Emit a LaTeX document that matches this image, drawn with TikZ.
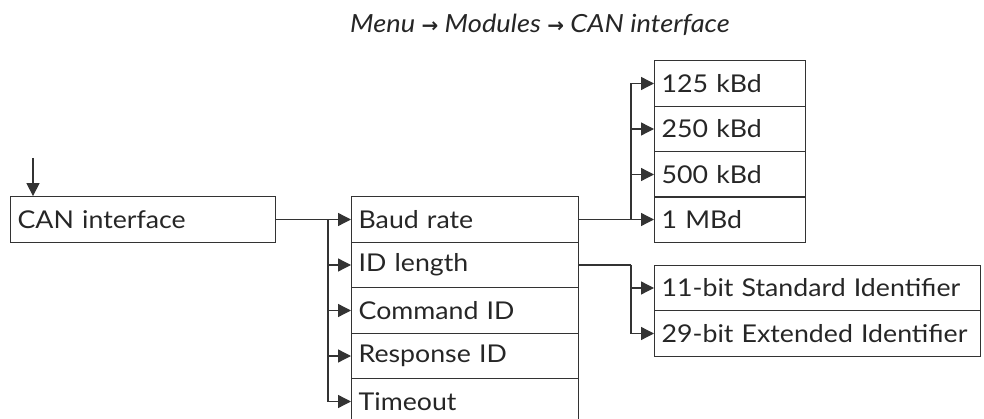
\documentclass[tikz,border=0pt]{standalone}
\usepackage{fontspec}
\setmainfont{Lato}[FakeStretch=1.09]
\newfontfamily\symfont{DejaVu Sans}[BoldFont=* Bold]
\usetikzlibrary{arrows.meta}

\definecolor{linegray}{HTML}{333333}
\tikzset{
  menubox/.style={draw=linegray, line width=1.3pt, anchor=west, align=left,
    minimum height=45.5pt, inner xsep=7pt, inner ysep=0pt,
    font=\fontsize{24.5}{27}\selectfont, text=black!85},
  branch/.style={draw=linegray, line width=1.3pt},
  arr/.style={branch, -{Triangle[length=13pt,width=13pt]}}
}

\begin{document}
\begin{tikzpicture}[x=1pt,y=-1pt]
      \useasboundingbox (0,0) rectangle (984,419);
      \node[font=\fontsize{25}{27}\selectfont\itshape, text=black!85] (path) at (540,25)
        {Menu {\symfont\upshape\bfseries\fontsize{20}{20}\selectfont →} Modules {\symfont\upshape\bfseries\fontsize{20}{20}\selectfont →} CAN interface};
      % main menu item
      \node[menubox, text width=251pt] (can) at (10,219.5) {CAN interface};
      % submenu
      \node[menubox, text width=213pt] (baud) at (351,219.5) {Baud rate};
      \node[menubox, text width=213pt] (idlen) at (351,265) {ID length};
      \node[menubox, text width=213pt] (cmd) at (351,310.5) {Command ID};
      \node[menubox, text width=213pt] (resp) at (351,356) {Response ID};
      \node[menubox, text width=213pt] (tout) at (351,401.5) {Timeout};
      % baud rates
      \node[menubox, text width=137pt] (kbd125) at (654,83.5) {125 kBd};
      \node[menubox, text width=137pt] (kbd250) at (654,129) {250 kBd};
      \node[menubox, text width=137pt] (kbd500) at (654,174.5) {500 kBd};
      \node[menubox, text width=137pt] (mbd1) at (654,219.5) {1 MBd};
      % identifier lengths
      \node[menubox, text width=312pt] (std) at (654,288) {11-bit Standard Identifier};
      \node[menubox, text width=312pt] (ext) at (654,333.5) {29-bit Extended Identifier};

      \coordinate (in) at (33,158);
      \coordinate (j1) at (328,219.5);
      \coordinate (j2) at (631,219.5);
      \coordinate (j3) at (631,265);

      \draw[arr] (in) -- (in |- can.north);
      \draw[arr] (can.east) -- (baud.west);
      \foreach \n in {idlen,cmd,resp,tout}
        \draw[arr] (j1) |- (\n.west);
      \draw[arr] (baud.east) -- (mbd1.west);
      \foreach \n in {kbd125,kbd250,kbd500}
        \draw[arr] (j2) |- (\n.west);
      \draw[branch] (idlen.east) -- (j3);
      \foreach \n in {std,ext}
        \draw[arr] (j3) |- (\n.west);
    \end{tikzpicture}
\end{document}
